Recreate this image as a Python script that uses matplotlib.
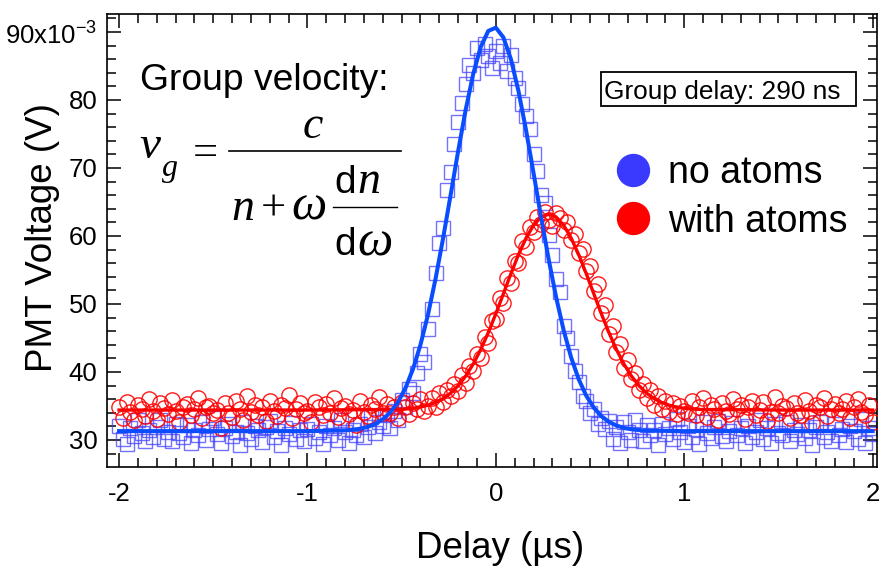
import numpy as np
import matplotlib
matplotlib.use("Agg")
import matplotlib.pyplot as plt
from matplotlib.ticker import MultipleLocator
from matplotlib.patches import Rectangle
from matplotlib.lines import Line2D

plt.rcParams['font.family'] = 'Liberation Sans'
plt.rcParams['mathtext.fontset'] = 'custom'
plt.rcParams['mathtext.rm'] = 'Liberation Sans'
plt.rcParams['mathtext.sf'] = 'Liberation Sans'

# scope trace, 20 ns per sample
delay = np.linspace(-2, 2, 201)

# PMT voltage in mV (axis shows x10^-3 V)
no_atoms = [
    32.1, 30.2, 29.4, 31.8, 30.6, 32.9, 31.0, 29.9, 31.5, 30.4,
    31.9, 33.0, 30.1, 31.2, 29.8, 32.4, 31.0, 30.5, 32.2, 29.6,
    31.4, 30.8, 32.7, 30.0, 31.6, 33.2, 30.9, 29.5, 31.8, 32.3,
    30.6, 31.2, 29.3, 32.6, 31.0, 30.2, 32.0, 31.5, 29.7, 31.9,
    32.8, 30.4, 31.3, 29.2, 31.7, 30.9, 32.5, 30.1, 31.4, 29.8,
    31.6, 32.4, 30.3, 31.1, 29.4, 32.0, 30.7, 31.8, 30.0, 32.9,
    31.2, 29.6, 31.5, 30.8, 32.3, 30.4, 31.9, 33.4, 31.0, 32.6,
    32.1, 33.6, 31.8, 34.2, 33.0, 35.9, 34.8, 37.5, 36.9, 39.8,
    42.6, 41.5, 46.3, 49.2, 54.5, 58.9, 61.2, 66.8, 69.4, 73.6,
    76.8, 79.5, 82.4, 85.1, 84.0, 87.6, 85.9, 88.3, 86.4, 84.7,
    87.2, 85.5, 88.0, 84.3, 86.6, 83.2, 81.7, 79.4, 77.6, 75.8,
    72.1, 69.6, 66.0, 64.8, 60.1, 57.2, 53.6, 51.8, 46.7, 45.0,
    42.3, 40.2, 38.5, 36.4, 35.8, 33.9, 34.6, 32.4, 33.3, 31.6,
    32.8, 30.2, 31.9, 29.5, 32.6, 31.1, 30.0, 33.0, 31.4, 29.8,
    32.2, 30.7, 31.5, 29.3, 32.4, 30.9, 31.8, 30.1, 33.1, 31.2,
    29.7, 32.0, 30.5, 31.6, 29.4, 32.7, 31.0, 30.3, 31.9, 32.8,
    30.6, 29.9, 31.3, 32.5, 30.8, 31.7, 29.5, 32.1, 30.4, 31.2,
    33.0, 30.1, 31.8, 29.6, 32.3, 31.0, 30.7, 32.6, 29.8, 31.4,
    30.9, 32.2, 30.3, 31.5, 29.2, 31.9, 32.7, 30.5, 31.1, 29.9,
    32.4, 30.8, 31.6, 29.7, 32.0, 31.3, 30.2, 33.1, 29.6, 31.8,
    30.9,
]

with_atoms = [
    34.8, 33.2, 35.6, 34.1, 32.9, 35.1, 34.6, 33.5, 36.0, 34.3,
    33.1, 35.4, 34.7, 33.8, 35.9, 34.2, 32.6, 34.9, 35.3, 33.6,
    34.5, 36.2, 33.3, 34.8, 35.0, 33.9, 34.4, 31.8, 35.5, 34.0,
    33.4, 35.7, 34.6, 33.0, 36.4, 34.1, 35.2, 33.7, 34.9, 32.8,
    35.8, 34.3, 33.5, 35.1, 34.7, 36.6, 33.2, 34.5, 35.4, 33.9,
    34.2, 32.7, 35.6, 34.8, 33.6, 35.3, 34.0, 36.1, 33.4, 34.7,
    35.0, 33.8, 34.4, 32.2, 35.7, 34.1, 33.5, 35.2, 34.6, 36.3,
    33.9, 35.3, 34.0, 34.8, 33.2, 35.6, 34.9, 33.8, 35.4, 34.5,
    36.0, 34.2, 35.0, 36.2, 34.8, 36.9, 35.6, 37.4, 36.4, 38.3,
    37.2, 39.6, 38.4, 40.9, 40.2, 42.6, 42.0, 45.1, 44.3, 47.5,
    47.8, 50.9, 50.2, 53.8, 53.1, 56.3, 56.0, 59.2, 58.4, 61.3,
    60.6, 62.8, 61.7, 63.6, 62.3, 61.5, 63.4, 62.6, 60.9, 62.0,
    59.4, 60.3, 57.5, 58.1, 54.8, 55.6, 51.9, 53.0, 48.7, 49.9,
    45.6, 46.8, 42.9, 44.1, 40.6, 41.7, 38.9, 39.8, 37.3, 38.2,
    36.1, 37.4, 35.2, 36.5, 34.6, 35.8, 34.1, 35.4, 33.8, 35.0,
    34.3, 34.0, 35.7, 33.6, 34.8, 36.2, 33.4, 35.1, 34.5, 32.9,
    35.5, 34.2, 33.8, 36.0, 34.6, 35.2, 33.1, 34.9, 35.8, 33.7,
    34.4, 35.6, 32.8, 34.1, 36.3, 33.9, 35.0, 34.7, 33.3, 35.4,
    34.0, 33.6, 35.9, 34.3, 32.5, 35.1, 34.8, 36.1, 33.5, 34.6,
    35.3, 33.9, 34.5, 35.8, 33.2, 34.9, 36.0, 34.1, 33.6, 35.2,
    32.7,
]

# gaussian fits
fit_no_x = [-2.0, -1.0, -0.80, -0.76, -0.72, -0.68, -0.64, -0.60, -0.56, -0.52,
            -0.48, -0.44, -0.40, -0.36, -0.32, -0.28, -0.24, -0.20, -0.16, -0.12,
            -0.08, -0.04, 0.00, 0.04, 0.08, 0.12, 0.16, 0.20, 0.24, 0.28,
            0.32, 0.36, 0.40, 0.44, 0.48, 0.52, 0.56, 0.60, 0.64, 0.68,
            0.72, 0.76, 0.80, 1.0, 2.0]
fit_no_y = [31.30, 31.30, 31.41, 31.50, 31.66, 31.93, 32.36, 33.04, 34.06, 35.55,
            37.62, 40.41, 44.00, 48.45, 53.71, 59.66, 66.04, 72.49, 78.58, 83.84,
            87.82, 90.16, 90.64, 89.21, 86.01, 81.34, 75.61, 69.28, 62.81, 56.62,
            50.99, 46.12, 42.10, 38.92, 36.50, 34.74, 33.50, 32.67, 32.12, 31.78,
            31.57, 31.45, 31.38, 31.30, 31.30]

fit_with_x = [-2.0, -1.0, -0.52, -0.48, -0.44, -0.40, -0.36, -0.32, -0.28, -0.24,
              -0.20, -0.16, -0.12, -0.08, -0.04, 0.00, 0.04, 0.08, 0.12, 0.16,
              0.20, 0.24, 0.28, 0.32, 0.36, 0.40, 0.44, 0.48, 0.52, 0.56,
              0.60, 0.64, 0.68, 0.72, 0.76, 0.80, 0.84, 0.88, 0.92, 0.96,
              1.00, 1.04, 1.08, 1.5, 2.0]
fit_with_y = [34.40, 34.40, 34.49, 34.55, 34.66, 34.84, 35.11, 35.51, 36.08, 36.89,
              37.98, 39.39, 41.17, 43.31, 45.80, 48.56, 51.50, 54.45, 57.24, 59.68,
              61.58, 62.79, 63.20, 62.79, 61.58, 59.68, 57.24, 54.45, 51.50, 48.56,
              45.80, 43.31, 41.17, 39.39, 37.98, 36.89, 36.08, 35.51, 35.11, 34.84,
              34.66, 34.55, 34.49, 34.40, 34.40]

blue = '#3c3cff'
red = '#ff0000'
W, H = 882, 571


def px(x, y):
    # pixel position (from top-left) -> figure fraction
    return x / W, 1 - y / H


fig = plt.figure(figsize=(8.82, 5.71), dpi=100)
ax = fig.add_axes([0.1213, 0.1827, 0.873, 0.7928])

ax.plot(delay, no_atoms, ls='', marker='s', ms=9.6, mfc='none', mec=blue,
        mew=1.0, alpha=0.72, zorder=2)
ax.plot(delay, with_atoms, ls='', marker='o', ms=11, mfc='none', mec=red,
        mew=1.0, alpha=0.9, zorder=3)
ax.plot(fit_with_x, fit_with_y, color=red, lw=2.4, zorder=4)
ax.plot(fit_no_x, fit_no_y, color='#0a4cff', lw=2.9, zorder=5)

ax.set_xlim(-2.064, 2.023)
ax.set_ylim(26.07, 92.65)
ax.set_xticks([-2, -1, 0, 1, 2])
ax.set_xticklabels(['-2', '-1', '0', '1', '2'])
ax.set_yticks([30, 40, 50, 60, 70, 80, 90])
ax.set_yticklabels(['30', '40', '50', '60', '70', '80', '90x10$^{\\mathsf{-3}}$'])
ax.xaxis.set_minor_locator(MultipleLocator(0.1))
ax.yaxis.set_minor_locator(MultipleLocator(2))
ax.tick_params(which='both', direction='in', top=True, right=True, width=1.1,
               labelsize=18.5)
ax.tick_params(which='major', length=10)
ax.tick_params(which='minor', length=6.5)
ax.tick_params(axis='x', pad=11)
ax.tick_params(axis='y', pad=7)
for s in ax.spines.values():
    s.set_linewidth(1.2)

fig.text(*px(500, 548), 'Delay (µs)', ha='center', va='center', fontsize=26.5)
fig.text(*px(43, 238), 'PMT Voltage (V)', ha='center', va='center',
         rotation=90, fontsize=26.5)

fig.text(*px(140, 90), 'Group velocity:', fontsize=26.8, va='baseline')

# v_g = c / (n + w dn/dw), set piece by piece
serif = dict(family='Liberation Serif', va='baseline')
ital = dict(family='Liberation Serif', style='italic', va='baseline')
fig.text(*px(139, 158), 'v', fontsize=34, **ital)
fig.text(*px(162, 176), 'g', fontsize=23, **ital)
fig.text(*px(205, 165), '=', fontsize=32, ha='center', **serif)
fig.add_artist(Line2D([229 / W, 401 / W], [1 - 151 / H] * 2, lw=1.2, color='black'))
fig.text(*px(313, 138), 'c', fontsize=33, ha='center', **ital)
fig.text(*px(231, 220), 'n', fontsize=33, **ital)
fig.text(*px(273, 221), '+', fontsize=32, ha='center', **serif)
fig.text(*px(291, 220), 'ω', fontsize=36, **ital)
fig.add_artist(Line2D([333 / W, 397 / W], [1 - 207 / H] * 2, lw=1.0, color='black'))
fig.text(*px(334, 193), 'd', fontsize=28, va='baseline')
fig.text(*px(357, 193), 'n', fontsize=33, **ital)
fig.text(*px(334, 255), 'd', fontsize=28, va='baseline')
fig.text(*px(357, 255), 'ω', fontsize=36, **ital)

# group delay box
fig.add_artist(Rectangle(px(601, 106), 255 / W, 34 / H,
                         transform=fig.transFigure, fill=False, lw=1.3, ec='black'))
fig.text(*px(604, 99), 'Group delay: 290 ns', fontsize=18.9, va='baseline')

# legend
ax.plot([(633 - 107) / 770], [(466.7 - 170) / 452.7], 'o', ms=23, color='#3a3aff',
        transform=ax.transAxes, clip_on=False)
ax.plot([(633 - 107) / 770], [(466.7 - 218) / 452.7], 'o', ms=23, color=red,
        transform=ax.transAxes, clip_on=False)
fig.text(*px(668, 183), 'no atoms', fontsize=27, va='baseline')
fig.text(*px(668, 232), 'with atoms', fontsize=27, va='baseline')

fig.savefig('out.png', dpi=100)
